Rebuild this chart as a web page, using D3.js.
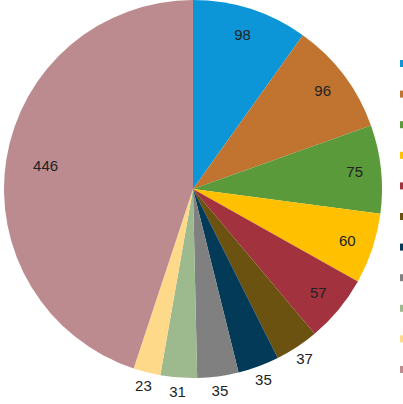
<!DOCTYPE html>
<html>
<head>
<meta charset="utf-8">
<script src="https://cdn.jsdelivr.net/npm/d3@7"></script>
<style>
  body { margin: 0; background: #fff; }
  svg { display: block; }
  text { font-family: "Liberation Sans", Arial, sans-serif; }
</style>
</head>
<body>
<div id="chart"></div>
<script>
// slice values, clockwise from 12 o'clock
var values = [98, 96, 75, 60, 57, 37, 35, 35, 31, 23, 446];
var colors = ["#0c96d8", "#c07430", "#5b9a3a", "#ffc000", "#a3323f", "#6b5210",
              "#033a58", "#808080", "#9cba8e", "#ffd98a", "#bc8b8f"];

var width = 403, height = 404;
var cx = 193, cy = 189, R = 189;

var svg = d3.select("#chart").append("svg")
  .attr("width", width)
  .attr("height", height);

var pie = d3.pie().sort(null).value(function(d) { return d; });
var arcs = pie(values);

var arc = d3.arc().innerRadius(0).outerRadius(R);

var g = svg.append("g").attr("transform", "translate(" + cx + "," + cy + ")");

g.selectAll("path")
  .data(arcs)
  .enter().append("path")
  .attr("d", arc)
  .attr("fill", function(d, i) { return colors[i]; });

// small slices get their label outside the pie, big ones inside near the rim
function labelRadius(d) {
  var span = d.endAngle - d.startAngle;
  if (d.value < 40) return R + 14;
  if (span > Math.PI / 2) return R * 0.79;
  return R * 0.86;
}

g.selectAll("text.lbl")
  .data(arcs)
  .enter().append("text")
  .attr("class", "lbl")
  .attr("transform", function(d) {
    var r = labelRadius(d);
    var a = (d.startAngle + d.endAngle) / 2;
    return "translate(" + [Math.sin(a) * r, -Math.cos(a) * r] + ")";
  })
  .attr("text-anchor", "middle")
  .attr("dy", "0.36em")
  .attr("font-size", 15)
  .attr("fill", "#222")
  .text(function(d) { return d.value; });

// legend (only the swatches fit in the frame)
var legend = svg.append("g").attr("transform", "translate(400,60)");
legend.selectAll("rect")
  .data(values)
  .enter().append("rect")
  .attr("x", 0)
  .attr("y", function(d, i) { return i * 30.6; })
  .attr("width", 7)
  .attr("height", 7)
  .attr("fill", function(d, i) { return colors[i]; });
</script>
</body>
</html>
